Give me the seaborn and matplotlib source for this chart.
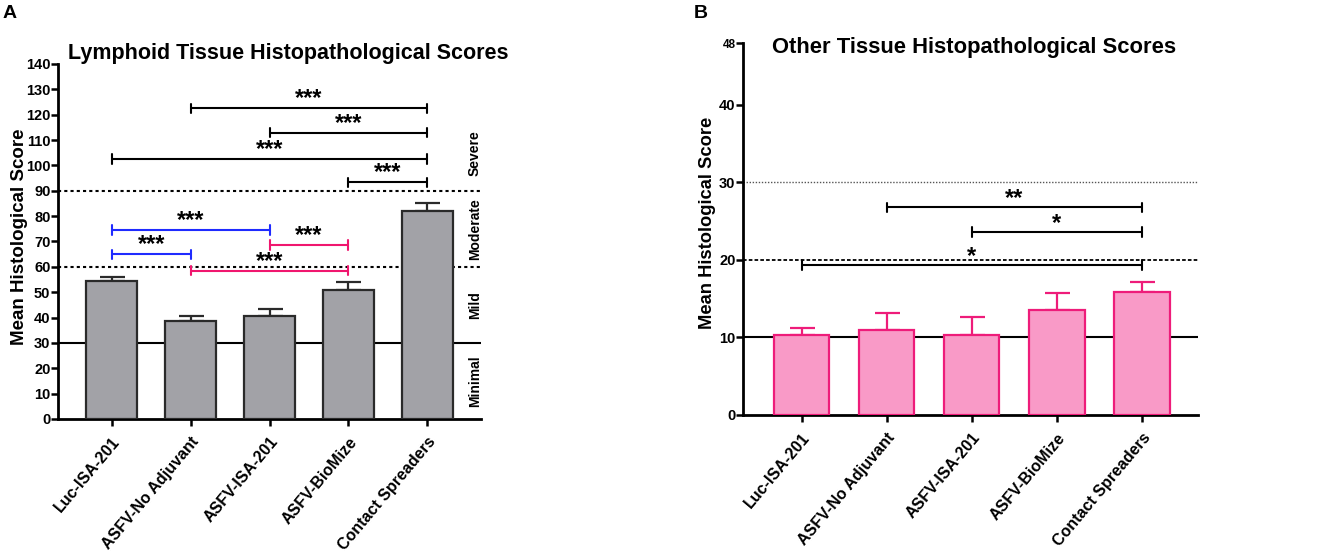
import matplotlib
matplotlib.use('Agg')
import matplotlib.pyplot as plt
import seaborn as sns
import pandas as pd
import numpy as np

sns.set_theme(style='ticks')
plt.rcParams['font.family'] = ['Liberation Sans', 'DejaVu Sans']
plt.rcParams['font.weight'] = 'bold'
for key in ['text.color', 'axes.labelcolor', 'xtick.color', 'ytick.color', 'axes.edgecolor']:
    plt.rcParams[key] = 'black'

groups = ['Luc-ISA-201', 'ASFV-No Adjuvant', 'ASFV-ISA-201', 'ASFV-BioMize', 'Contact Spreaders']

lymph_mean = [54.5, 38.5, 40.8, 51.0, 82.0]
lymph_err = [1.6, 2.0, 2.5, 3.2, 3.0]
other_mean = [10.3, 10.9, 10.3, 13.5, 15.9]
other_err = [0.9, 2.2, 2.3, 2.3, 1.3]

# comparisons: (left group, right group, bracket height, label, colour)
lymph_comp = [
    (1, 4, 122.6, '***', 'black'),
    (2, 4, 112.8, '***', 'black'),
    (0, 4, 102.5, '***', 'black'),
    (3, 4, 93.4, '***', 'black'),
    (0, 2, 74.5, '***', '#1f2bff'),
    (0, 1, 65.0, '***', '#1f2bff'),
    (2, 3, 68.6, '***', '#f0166e'),
    (1, 3, 58.4, '***', '#f0166e'),
]
other_comp = [
    (1, 4, 26.8, '**', 'black'),
    (2, 4, 23.6, '*', 'black'),
    (0, 4, 19.35, '*', 'black'),
]

severity = ['Minimal', 'Mild', 'Moderate', 'Severe']
severity_y = [15, 45, 75, 105]

df_a = pd.DataFrame({'group': groups, 'score': lymph_mean})
df_b = pd.DataFrame({'group': groups, 'score': other_mean})

fig = plt.figure(figsize=(13.25, 5.57), dpi=100)
ax_a = fig.add_axes([0.0438, 0.2478, 0.3192, 0.6374])
ax_b = fig.add_axes([0.5608, 0.2550, 0.3434, 0.6678])


def draw_bars(ax, df, err, fill, edge):
    sns.barplot(data=df, x='group', y='score', color=fill, saturation=1,
                width=0.65, edgecolor=edge, linewidth=1.6, errorbar=None,
                ax=ax, zorder=3)
    x = np.arange(len(df))
    ax.errorbar(x, df['score'], yerr=[np.zeros(len(err)), err], fmt='none',
                ecolor=edge, elinewidth=1.6, capsize=9, capthick=1.6, zorder=2)


def bracket(ax, x1, x2, y, h, dy, label, color):
    ax.plot([x1, x2], [y, y], color=color, lw=1.5, zorder=4)
    ax.plot([x1, x1], [y - h, y + h], color=color, lw=1.5, zorder=4)
    ax.plot([x2, x2], [y - h, y + h], color=color, lw=1.5, zorder=4)
    ax.text((x1 + x2) / 2, y + dy, label, ha='center', va='center',
            fontsize=17, fontweight='bold', color='black', zorder=5)


def style_axes(ax):
    sns.despine(ax=ax)
    for s in ['left', 'bottom']:
        ax.spines[s].set_linewidth(2)
    ax.tick_params(axis='both', width=1.8, length=5, labelsize=10.5, pad=0.5)
    ax.tick_params(axis='x', pad=6)
    ax.set_xlabel('')
    ax.set_xticks(range(len(groups)))
    ax.set_xticklabels(groups, rotation=50, ha='right', rotation_mode='anchor',
                       fontsize=11.5, fontweight='bold')
    for lab in ax.get_yticklabels():
        lab.set_fontweight('bold')


# panel A
draw_bars(ax_a, df_a, lymph_err, '#a2a2a7', '#2a2a2a')
ax_a.axhline(30, color='black', lw=1.5, zorder=1)
ax_a.axhline(60, color='black', lw=1.5, ls=(0, (1.5, 1.5)), zorder=1)
ax_a.axhline(90, color='black', lw=1.5, ls=(0, (1.5, 1.5)), zorder=1)
for x1, x2, y, lab, c in lymph_comp:
    bracket(ax_a, x1, x2, y, 1.8, 3.6, lab, c)
for lab, y in zip(severity, severity_y):
    ax_a.text(4.6, y, lab, rotation=90, ha='center', va='center',
              fontsize=10, fontweight='bold')
ax_a.set_xlim(-0.68, 4.68)
ax_a.set_ylim(0, 140)
ax_a.set_yticks(range(0, 141, 10))
style_axes(ax_a)
ax_a.set_ylabel('Mean Histological Score', fontsize=13.5, fontweight='bold')
ax_a.yaxis.set_label_coords(-0.07, 0.513)

# panel B
draw_bars(ax_b, df_b, other_err, '#f99ac7', '#ee1c7a')
ax_b.axhline(10, color='black', lw=1.5, zorder=1)
ax_b.axhline(20, color='black', lw=1.3, ls=(0, (2, 1.2)), zorder=1)
ax_b.axhline(30, color='#555555', lw=1.0, ls=(0, (1, 1.2)), zorder=1)
for x1, x2, y, lab, c in other_comp:
    bracket(ax_b, x1, x2, y, 0.6, 1.15, lab, c)
ax_b.set_xlim(-0.69, 4.66)
ax_b.set_ylim(0, 48)
ax_b.set_yticks([0, 10, 20, 30, 40, 48])
style_axes(ax_b)
ax_b.get_yticklabels()[-1].set_fontsize(8.5)
ax_b.set_ylabel('Mean Histological Score', fontsize=13.2, fontweight='bold')
ax_b.yaxis.set_label_coords(-0.059, 0.516)

fig.text(288 / 1325, 1 - 53 / 557, 'Lymphoid Tissue Histopathological Scores',
         ha='center', va='center', fontsize=15.5, fontweight='bold')
fig.text(974 / 1325, 1 - 48 / 557, 'Other Tissue Histopathological Scores',
         ha='center', va='center', fontsize=15.8, fontweight='bold')
fig.text(3 / 1325, 1 - 14 / 557, 'A', ha='left', va='center', fontsize=14, fontweight='bold')
fig.text(694 / 1325, 1 - 14 / 557, 'B', ha='left', va='center', fontsize=14, fontweight='bold')

fig.savefig('out.png', dpi=100)
